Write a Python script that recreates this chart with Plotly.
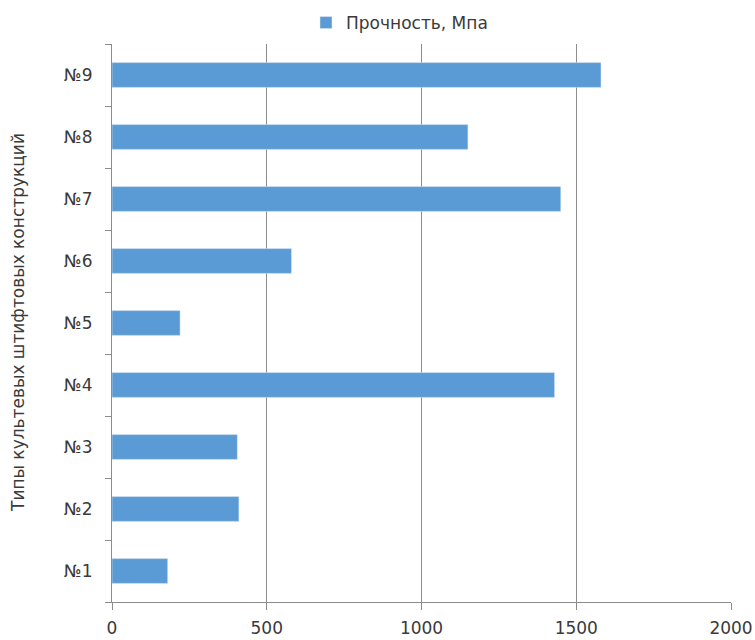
import plotly.graph_objects as go

categories = ["№1", "№2", "№3", "№4", "№5", "№6", "№7", "№8", "№9"]
strength = [180, 410, 405, 1430, 220, 580, 1450, 1150, 1580]
series_name = "Прочность, Мпа"
x_ticks = [0, 500, 1000, 1500, 2000]
y_title = "Типы культевых штифтовых конструкций"

FONT = "DejaVu Sans, sans-serif"
GRID = "#8c8c8c"
TXT = "#3a3a3a"
FS = 17

fig = go.Figure()
fig.add_trace(go.Bar(
    y=categories, x=strength, orientation="h", name=series_name,
    marker=dict(color="#5B9BD5"), showlegend=True,
))

fig.update_layout(
    width=755, height=640,
    margin=dict(l=112, r=24, t=44, b=38, autoexpand=False),
    plot_bgcolor="white", paper_bgcolor="white",
    font=dict(family=FONT, size=FS, color=TXT),
    bargap=0.6,
    showlegend=True,
    legend=dict(orientation="h", x=(306 - 112) / 619, xanchor="left",
                y=1 + (44 - 23) / 558, yanchor="middle",
                font=dict(size=FS, color=TXT), itemwidth=30),
    xaxis=dict(range=[0, 2000], tickvals=x_ticks, showgrid=True, gridcolor=GRID, gridwidth=1,
               showline=True, linecolor=GRID, linewidth=1, ticks="outside", ticklen=7,
               tickcolor=GRID, zeroline=False, ticklabelstandoff=4, automargin=False),
    yaxis=dict(categoryorder="array", categoryarray=categories, showline=True, linecolor=GRID,
               linewidth=1, ticks="outside", ticklen=6, tickcolor=GRID, tickson="boundaries",
               showgrid=False, ticklabelstandoff=15, automargin=False),
    annotations=[dict(text=y_title, textangle=-90, xref="paper", yref="paper",
                      x=(18 - 112) / 619, y=0.5, xanchor="center", yanchor="middle",
                      showarrow=False, font=dict(size=FS, color=TXT))],
)

fig.write_html("out.html")
